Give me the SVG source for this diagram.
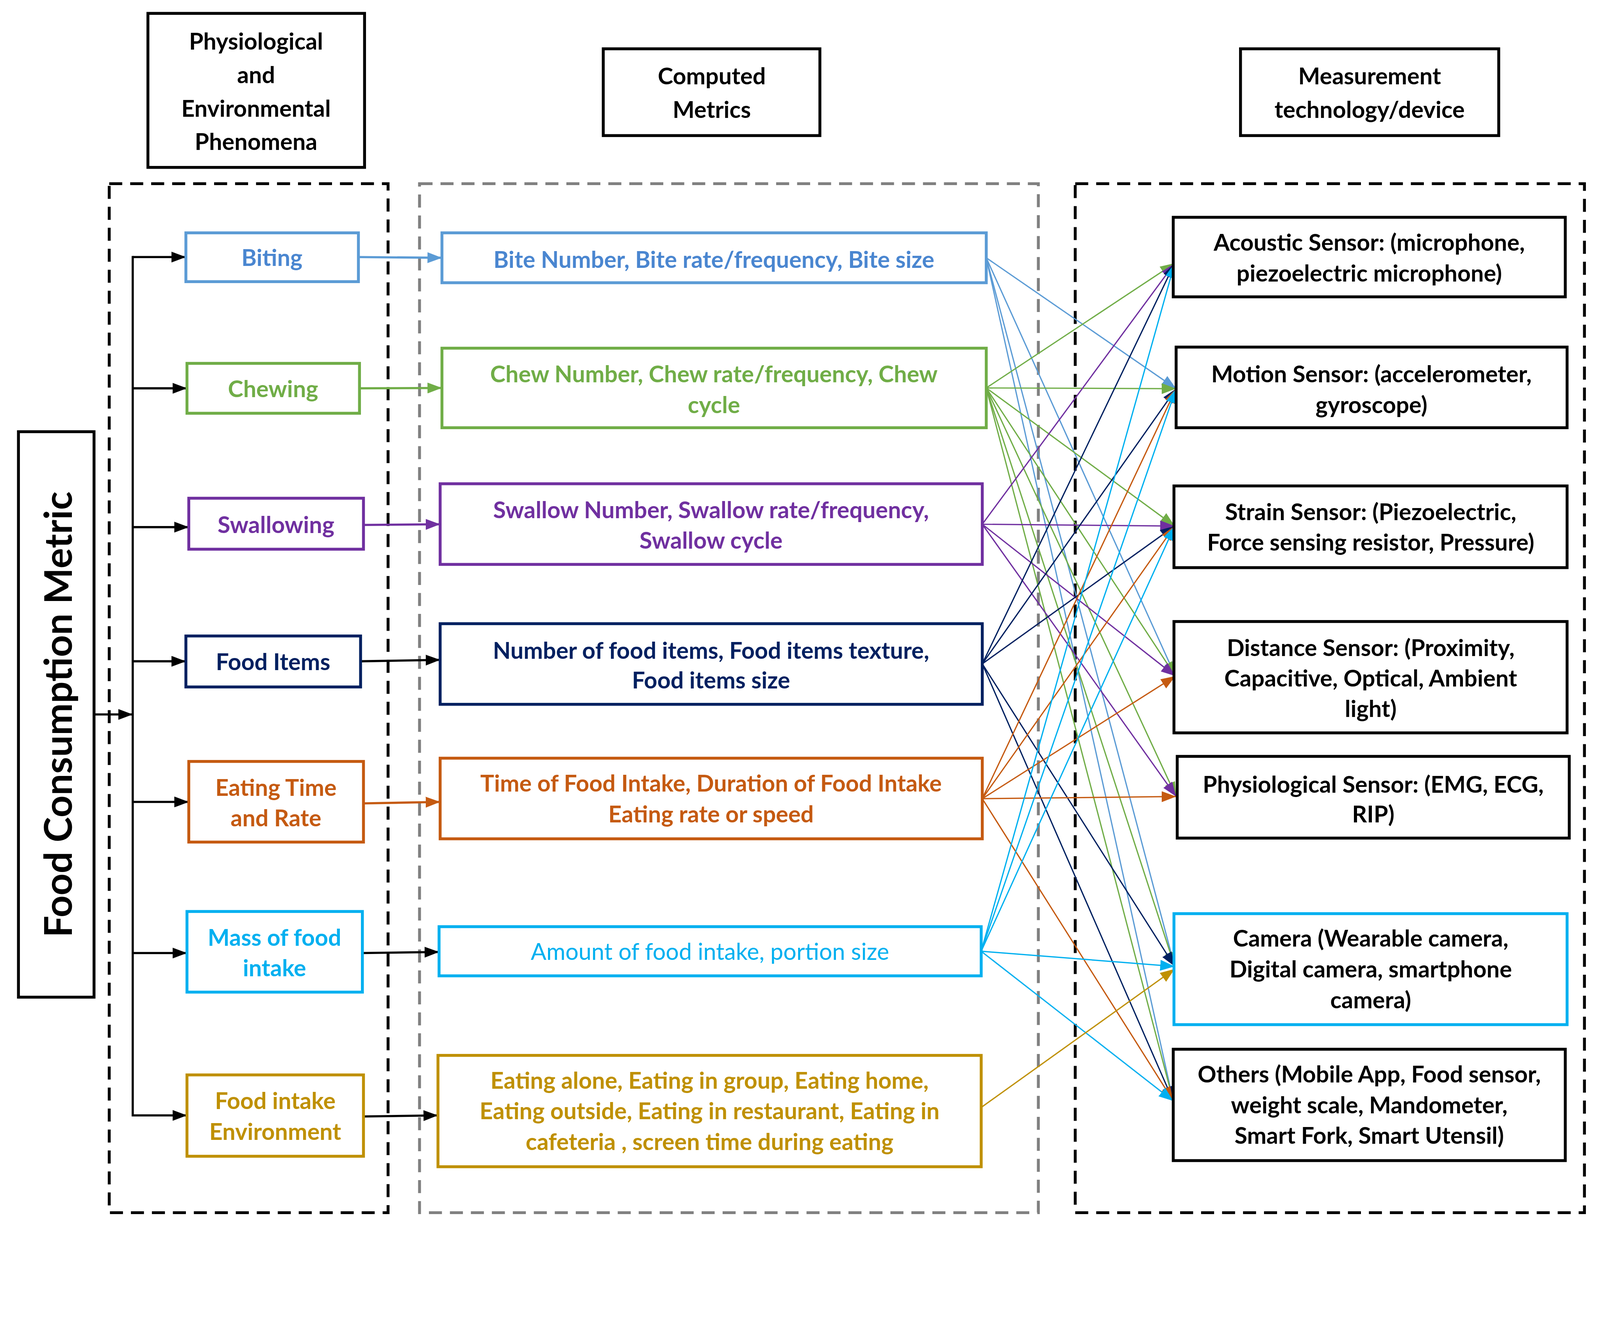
<svg xmlns="http://www.w3.org/2000/svg" width="4424" height="3393" viewBox="0 0 4424 3393" preserveAspectRatio="xMidYMin meet" style="width:100vw;height:100vh">
<style>
text{font-family:Lato,"Open Sans","Liberation Sans",sans-serif;font-weight:bold;font-size:64px;text-anchor:middle;dominant-baseline:central}
.bx{fill:#fff;stroke-width:8}
.k{stroke:#000}
.c1{stroke:#5b9bd5}.t1{fill:#4a86d0}
.c2{stroke:#70ad47}.t2{fill:#70ad47}
.c3{stroke:#7030a0}.t3{fill:#7030a0}
.c4{stroke:#002060}.t4{fill:#002060}
.c5{stroke:#c55a11}.t5{fill:#c55a11}
.c6{stroke:#00b0f0}.t6{fill:#00b0f0}
.c7{stroke:#bf9000}.t7{fill:#bf9000}
.cn line{stroke-width:3.5;fill:none}
.lk line{stroke-width:6;fill:none}
.big{font-size:106px}
.nw{font-weight:normal}
</style>
<defs>
<marker id="a0" markerUnits="userSpaceOnUse" markerWidth="40" markerHeight="30" refX="40" refY="15" orient="auto"><path d="M0,0L40,15L0,30z" fill="#000"/></marker>
<marker id="a1" markerUnits="userSpaceOnUse" markerWidth="40" markerHeight="30" refX="40" refY="15" orient="auto"><path d="M0,0L40,15L0,30z" fill="#5b9bd5"/></marker>
<marker id="a2" markerUnits="userSpaceOnUse" markerWidth="40" markerHeight="30" refX="40" refY="15" orient="auto"><path d="M0,0L40,15L0,30z" fill="#70ad47"/></marker>
<marker id="a3" markerUnits="userSpaceOnUse" markerWidth="40" markerHeight="30" refX="40" refY="15" orient="auto"><path d="M0,0L40,15L0,30z" fill="#7030a0"/></marker>
<marker id="a4" markerUnits="userSpaceOnUse" markerWidth="40" markerHeight="30" refX="40" refY="15" orient="auto"><path d="M0,0L40,15L0,30z" fill="#002060"/></marker>
<marker id="a5" markerUnits="userSpaceOnUse" markerWidth="40" markerHeight="30" refX="40" refY="15" orient="auto"><path d="M0,0L40,15L0,30z" fill="#c55a11"/></marker>
<marker id="a6" markerUnits="userSpaceOnUse" markerWidth="40" markerHeight="30" refX="40" refY="15" orient="auto"><path d="M0,0L40,15L0,30z" fill="#00b0f0"/></marker>
<marker id="a7" markerUnits="userSpaceOnUse" markerWidth="40" markerHeight="30" refX="40" refY="15" orient="auto"><path d="M0,0L40,15L0,30z" fill="#bf9000"/></marker>
</defs>
<rect width="4424" height="3393" fill="#fff"/>
<g id="groups" fill="none" stroke-width="8" stroke-dasharray="36,22">
<rect x="302" y="508" width="771" height="2846" stroke="#000"/>
<rect x="1160" y="508" width="1711" height="2846" stroke="#808080"/>
<rect x="2973" y="508" width="1408" height="2846" stroke="#000"/>
</g>
<g id="headers">
<rect class="bx k" x="409" y="37" width="599" height="426"/>
<text x="708" y="113">Physiological</text><text x="708" y="206">and</text><text x="708" y="299">Environmental</text><text x="708" y="390">Phenomena</text>
<rect class="bx k" x="1668" y="135" width="599" height="240"/>
<text x="1968" y="209">Computed</text><text x="1968" y="302">Metrics</text>
<rect class="bx k" x="3430" y="135" width="714" height="240"/>
<text x="3787" y="209">Measurement</text><text x="3787" y="302">technology/device</text>
</g>
<g id="fcm">
<rect class="bx k" x="51" y="1194" width="209" height="1564"/>
<text class="big" x="158" y="1976" transform="rotate(-90 158 1976)">Food Consumption Metric</text>
</g>
<g id="left-links" class="lk">
<line x1="367" y1="708" x2="367" y2="3088" stroke="#000"/>
<line x1="260" y1="1976" x2="367" y2="1976" stroke="#000" marker-end="url(#a0)"/>
<line x1="367" y1="711" x2="514" y2="711" stroke="#000" marker-end="url(#a0)"/>
<line x1="367" y1="1074" x2="517" y2="1074" stroke="#000" marker-end="url(#a0)"/>
<line x1="367" y1="1458" x2="522" y2="1458" stroke="#000" marker-end="url(#a0)"/>
<line x1="367" y1="1829" x2="514" y2="1829" stroke="#000" marker-end="url(#a0)"/>
<line x1="367" y1="2218" x2="522" y2="2218" stroke="#000" marker-end="url(#a0)"/>
<line x1="367" y1="2636" x2="517" y2="2636" stroke="#000" marker-end="url(#a0)"/>
<line x1="367" y1="3085" x2="517" y2="3085" stroke="#000" marker-end="url(#a0)"/>
<line x1="991" y1="711" x2="1222" y2="713" class="c1" marker-end="url(#a1)"/>
<line x1="994" y1="1074" x2="1222" y2="1073" class="c2" marker-end="url(#a2)"/>
<line x1="1005" y1="1452" x2="1217" y2="1450" class="c3" marker-end="url(#a3)"/>
<line x1="997" y1="1829" x2="1217" y2="1825" stroke="#000" marker-end="url(#a0)"/>
<line x1="1005" y1="2222" x2="1217" y2="2218" class="c5" marker-end="url(#a5)"/>
<line x1="1002" y1="2636" x2="1214" y2="2633" stroke="#000" marker-end="url(#a0)"/>
<line x1="1005" y1="3088" x2="1211" y2="3085" stroke="#000" marker-end="url(#a0)"/>
</g>
<g id="connectors" class="cn">
<line x1="2727" y1="713" x2="3252" y2="1075" class="c1" marker-end="url(#a1)"/>
<line x1="2727" y1="713" x2="3250" y2="1870" class="c1" marker-end="url(#a1)"/>
<line x1="2727" y1="713" x2="3248" y2="2673" class="c1" marker-end="url(#a1)"/>
<line x1="2727" y1="713" x2="3244" y2="3045" class="c1" marker-end="url(#a1)"/>
<line x1="2727" y1="1073" x2="3248" y2="728" class="c2" marker-end="url(#a2)"/>
<line x1="2727" y1="1073" x2="3252" y2="1075" class="c2" marker-end="url(#a2)"/>
<line x1="2727" y1="1073" x2="3248" y2="1455" class="c2" marker-end="url(#a2)"/>
<line x1="2727" y1="1073" x2="3250" y2="1870" class="c2" marker-end="url(#a2)"/>
<line x1="2727" y1="1073" x2="3252" y2="2203" class="c2" marker-end="url(#a2)"/>
<line x1="2727" y1="1073" x2="3248" y2="2673" class="c2" marker-end="url(#a2)"/>
<line x1="2727" y1="1073" x2="3244" y2="3045" class="c2" marker-end="url(#a2)"/>
<line x1="2716" y1="1450" x2="3248" y2="728" class="c3" marker-end="url(#a3)"/>
<line x1="2716" y1="1450" x2="3248" y2="1455" class="c3" marker-end="url(#a3)"/>
<line x1="2716" y1="1450" x2="3250" y2="1870" class="c3" marker-end="url(#a3)"/>
<line x1="2716" y1="1450" x2="3252" y2="2203" class="c3" marker-end="url(#a3)"/>
<line x1="2716" y1="1836" x2="3248" y2="728" class="c4" marker-end="url(#a4)"/>
<line x1="2716" y1="1836" x2="3252" y2="1075" class="c4" marker-end="url(#a4)"/>
<line x1="2716" y1="1836" x2="3248" y2="1455" class="c4" marker-end="url(#a4)"/>
<line x1="2716" y1="1836" x2="3248" y2="2673" class="c4" marker-end="url(#a4)"/>
<line x1="2716" y1="1836" x2="3244" y2="3045" class="c4" marker-end="url(#a4)"/>
<line x1="2716" y1="2209" x2="3252" y2="1075" class="c5" marker-end="url(#a5)"/>
<line x1="2716" y1="2209" x2="3248" y2="1455" class="c5" marker-end="url(#a5)"/>
<line x1="2716" y1="2209" x2="3250" y2="1870" class="c5" marker-end="url(#a5)"/>
<line x1="2716" y1="2209" x2="3252" y2="2203" class="c5" marker-end="url(#a5)"/>
<line x1="2716" y1="2209" x2="3244" y2="3045" class="c5" marker-end="url(#a5)"/>
<line x1="2713" y1="2631" x2="3248" y2="728" class="c6" marker-end="url(#a6)"/>
<line x1="2713" y1="2631" x2="3252" y2="1075" class="c6" marker-end="url(#a6)"/>
<line x1="2713" y1="2631" x2="3248" y2="1455" class="c6" marker-end="url(#a6)"/>
<line x1="2713" y1="2631" x2="3248" y2="2673" class="c6" marker-end="url(#a6)"/>
<line x1="2713" y1="2631" x2="3244" y2="3045" class="c6" marker-end="url(#a6)"/>
<line x1="2713" y1="3063" x2="3248" y2="2680" class="c7" marker-end="url(#a7)"/>
</g>
<g id="biting"><rect class="bx c1" x="514" y="644" width="477" height="135"/><text class="t1" x="752" y="711">Biting</text></g>
<g id="chewing"><rect class="bx c2" x="517" y="1005" width="477" height="138"/><text class="t2" x="755" y="1074">Chewing</text></g>
<g id="swallowing"><rect class="bx c3" x="522" y="1378" width="483" height="141"/><text class="t3" x="763" y="1450">Swallowing</text></g>
<g id="fooditems"><rect class="bx c4" x="514" y="1759" width="483" height="141"/><text class="t4" x="755" y="1829">Food Items</text></g>
<g id="eatingtime"><rect class="bx c5" x="522" y="2106" width="483" height="223"/><text class="t5" x="763" y="2177">Eating Time</text><text class="t5" x="763" y="2261">and Rate</text></g>
<g id="mass"><rect class="bx c6" x="517" y="2521" width="485" height="223"/><text class="t6" x="759" y="2592">Mass of food</text><text class="t6" x="759" y="2676">intake</text></g>
<g id="environment"><rect class="bx c7" x="517" y="2973" width="488" height="225"/><text class="t7" x="761" y="3043">Food intake</text><text class="t7" x="761" y="3128">Environment</text></g>
<g id="m1"><rect class="bx c1" x="1222" y="644" width="1505" height="138"/><text class="t1" x="1974" y="717">Bite Number, Bite rate/frequency, Bite size</text></g>
<g id="m2"><rect class="bx c2" x="1222" y="963" width="1505" height="220"/><text class="t2" x="1974" y="1033">Chew Number, Chew rate/frequency, Chew</text><text class="t2" x="1974" y="1118">cycle</text></g>
<g id="m3"><rect class="bx c3" x="1217" y="1338" width="1499" height="223"/><text class="t3" x="1966" y="1409">Swallow Number, Swallow rate/frequency,</text><text class="t3" x="1966" y="1493">Swallow cycle</text></g>
<g id="m4"><rect class="bx c4" x="1217" y="1725" width="1499" height="223"/><text class="t4" x="1966" y="1798">Number of food items, Food items texture,</text><text class="t4" x="1966" y="1880">Food items size</text></g>
<g id="m5"><rect class="bx c5" x="1217" y="2097" width="1499" height="223"/><text class="t5" x="1966" y="2165">Time of Food Intake, Duration of Food Intake</text><text class="t5" x="1966" y="2250">Eating rate or speed</text></g>
<g id="m6"><rect class="bx c6" x="1214" y="2563" width="1499" height="136"/><text class="t6 nw" x="1963" y="2631">Amount of food intake, portion size</text></g>
<g id="m7"><rect class="bx c7" x="1211" y="2919" width="1502" height="308"/><text class="t7" x="1962" y="2987">Eating alone, Eating in group, Eating home,</text><text class="t7" x="1962" y="3071">Eating outside, Eating in restaurant, Eating in</text><text class="t7" x="1962" y="3156">cafeteria , screen time during eating</text></g>
<g id="r1"><rect class="bx k" x="3244" y="601" width="1084" height="220"/><text x="3786" y="669">Acoustic Sensor: (microphone,</text><text x="3786" y="754">piezoelectric microphone)</text></g>
<g id="r2"><rect class="bx k" x="3252" y="960" width="1081" height="223"/><text x="3792" y="1033">Motion Sensor: (accelerometer,</text><text x="3792" y="1118">gyroscope)</text></g>
<g id="r3"><rect class="bx k" x="3246" y="1344" width="1087" height="226"/><text x="3790" y="1414">Strain Sensor: (Piezoelectric,</text><text x="3790" y="1499">Force sensing resistor,  Pressure)</text></g>
<g id="r4"><rect class="bx k" x="3246" y="1719" width="1087" height="308"/><text x="3790" y="1790">Distance Sensor: (Proximity,</text><text x="3790" y="1874">Capacitive, Optical, Ambient</text><text x="3790" y="1959">light)</text></g>
<g id="r5"><rect class="bx k" x="3255" y="2092" width="1084" height="226"/><text x="3797" y="2168">Physiological Sensor: (EMG, ECG,</text><text x="3797" y="2250">RIP)</text></g>
<g id="r6"><rect class="bx c6" x="3246" y="2527" width="1087" height="307"/><text x="3790" y="2594">Camera (Wearable camera,</text><text x="3790" y="2679">Digital camera, smartphone</text><text x="3790" y="2764">camera)</text></g>
<g id="r7"><rect class="bx k" x="3244" y="2902" width="1084" height="308"/><text x="3786" y="2970">Others (Mobile App, Food sensor,</text><text x="3786" y="3055">weight scale, Mandometer,</text><text x="3786" y="3139">Smart Fork, Smart Utensil)</text></g>
</svg>
